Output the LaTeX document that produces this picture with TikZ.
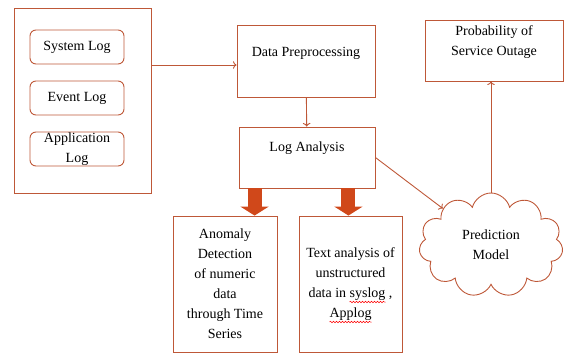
\documentclass[tikz,border=0pt]{standalone}
\usepackage{fontspec}
\setmainfont{Liberation Serif}
\usetikzlibrary{shapes.symbols, arrows.meta, decorations.pathmorphing}

\definecolor{brick}{RGB}{190,88,56}
\definecolor{rust}{RGB}{208,72,26}

\begin{document}
\begin{tikzpicture}[x=1pt, y=-1pt, >=To,
    box/.style={draw=brick, line width=0.9pt, font=\fontsize{14}{20}\selectfont, align=center, inner sep=0pt},
    logbox/.style={box, rounded corners=6pt, minimum width=94pt, minimum height=34pt},
    link/.style={draw=brick, line width=0.9pt, ->},
    bigarrow/.style={draw=rust, line width=14pt, -{Triangle[width=28pt, length=9pt]}},
    squiggle/.style={red, line width=0.5pt, decorate, decoration={snake, amplitude=0.8pt, segment length=3pt}}]
    \useasboundingbox (0,0) rectangle (565,356);

    % Log sources
    \node[box, minimum width=137pt, minimum height=185pt] (logs) at (82.5,100.5) {};
    \node[logbox] (syslog) at (77,47) {System Log};
    \node[logbox] (evlog) at (77,98) {Event Log};
    \node[logbox] (applog) at (77,149) {Application\\Log};

    % Processing chain
    \node[box, minimum width=138pt, minimum height=72pt, text height=9pt, text depth=19pt] (prep) at (306,61) {Data Preprocessing};
    \node[box, minimum width=136pt, minimum height=61pt, text height=9pt, text depth=21pt] (ana) at (307,157.5) {Log Analysis};

    % Analysis methods
    \node[box, minimum width=104pt, minimum height=136pt] (anomaly) at (225,284)
        {Anomaly\\Detection\\of numeric\\data\\through Time\\Series};
    \node[box, minimum width=103pt, minimum height=136pt] (textan) at (350.5,284)
        {Text analysis of\\unstructured\\data in syslog ,\\Applog};
    % spell-check marks under syslog and Applog
    \draw[squiggle] ([shift={(-1,18)}]textan.center) -- ([shift={(35,18)}]textan.center);
    \draw[squiggle] ([shift={(-21,38)}]textan.center) -- ([shift={(21,38)}]textan.center);

    % Prediction
    \node[box, cloud, cloud puffs=11, aspect=1.4, minimum width=144pt, minimum height=104pt] (model) at (491,245) {Prediction\\Model};
    \node[box, minimum width=138pt, minimum height=61pt, text height=10pt, text depth=0pt] (outage) at (494,50.5) {Probability of\\Service Outage};

    \coordinate (prepin) at ([yshift=-4pt]prep.west);
    \draw[link] (logs.east |- prepin) -- (prepin);
    \draw[link] (prep) -- (ana);
    \draw[link] (ana.east) -- (model);
    \draw[link] (model.north) -- (model.north |- outage.south);

    \draw[bigarrow] ([xshift=16pt]ana.south west) -- ([xshift=16pt]ana.south west |- anomaly.north);
    \draw[bigarrow] ([xshift=-27pt]ana.south east) -- ([xshift=-27pt]ana.south east |- textan.north);
\end{tikzpicture}
\end{document}
